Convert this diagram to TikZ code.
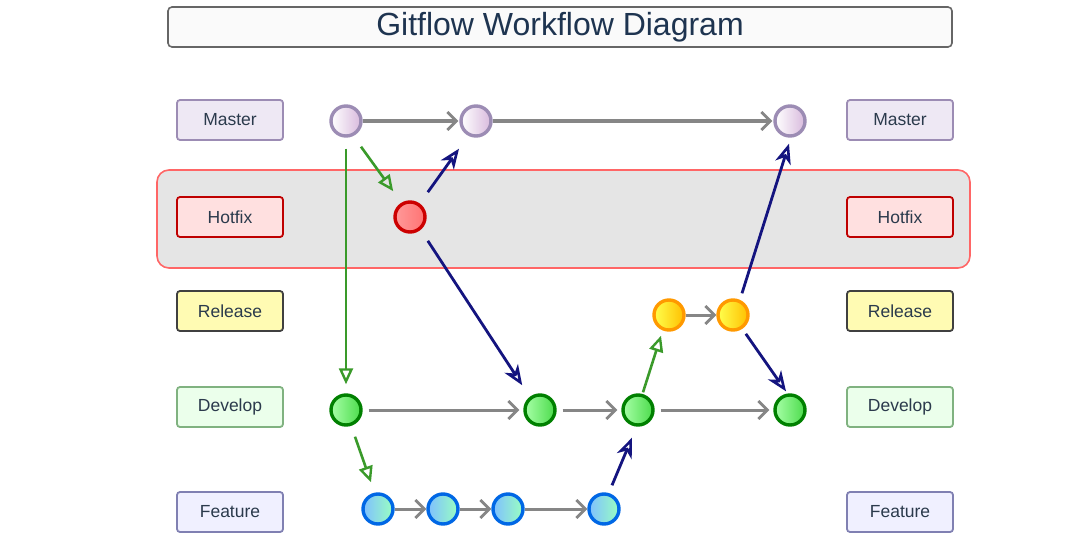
\documentclass[tikz,border=0pt]{standalone}
\usepackage{fontspec}
\setmainfont{Liberation Sans}
\usetikzlibrary{arrows.meta}
\definecolor{txt}{HTML}{2B3A4C}
\definecolor{ttl}{HTML}{1E3450}
\definecolor{grayarr}{HTML}{868686}
\definecolor{greenarr}{HTML}{3A9A2A}
\definecolor{navy}{HTML}{14147F}
\definecolor{mbord}{HTML}{9C8CB4}
\definecolor{mfill}{HTML}{EEE8F4}
\tikzset{
  x=1pt,y=-1pt,
  lbl/.style={draw, rounded corners=3pt, line width=1.8pt, minimum width=106pt, minimum height=40pt, font=\fontsize{17.5}{20}\selectfont, text=txt},
  lmaster/.style={lbl, fill=mfill, draw=mbord},
  lhotfix/.style={lbl, fill=red!12, draw=red!75!black},
  lrelease/.style={lbl, fill=yellow!30, draw=black!75},
  ldevelop/.style={lbl, fill=green!8!white, draw=green!25!gray!80},
  lfeature/.style={lbl, fill=blue!6, draw=blue!25!gray!80},
  cmt/.style={circle, minimum size=30pt, inner sep=0pt, line width=3.4pt},
  cmas/.style={cmt, draw=mbord, left color=white, right color=mfill!80!violet},
  chot/.style={cmt, draw=red!80!black, left color=red!40, right color=red!55},
  crel/.style={cmt, draw=orange!80!yellow, left color=yellow!70, right color=orange!50!yellow},
  cdev/.style={cmt, draw=green!50!black, left color=green!35, right color=green!60!black!50!green!70},
  cfea/.style={cmt, draw=blue!55!cyan!90!black, left color=cyan!50!blue!50, right color=cyan!40!green!40},
  garr/.style={draw=grayarr, line width=3pt, -{Straight Barb[length=9pt,width=18pt,line width=2.8pt]}},
  grarr/.style={draw=greenarr, line width=2.6pt, -{Triangle[open,length=16pt,width=14pt,line width=2.4pt]}},
  narr/.style={draw=navy, line width=2.8pt, -{Stealth[open,length=20pt,width=16pt,inset=6pt,line width=2.6pt]}},
}
\begin{document}
\begin{tikzpicture}
\useasboundingbox[fill=white] (0,0) rectangle (1080,551);
% title
\node[draw=gray!80!black, line width=1.6pt, rounded corners=4pt, fill=gray!4, minimum width=784pt, minimum height=40pt, text=ttl, font=\fontsize{32}{34}\selectfont] (title) at (560,27) {Gitflow Workflow Diagram};
% hotfix band
\node[draw=red!60!white, line width=1.6pt, rounded corners=12pt, fill=gray!20, minimum width=813pt, minimum height=98pt] (band) at (563.5,219) {};
% labels
\node[lmaster] (lm) at (230,120) {Master};
\node[lhotfix] (lh) at (230,217) {Hotfix};
\node[lrelease] (lr) at (230,311) {Release};
\node[ldevelop] (ld) at (230,407) {Develop};
\node[lfeature] (lf) at (230,512) {Feature};
\node[lmaster] (rm) at (900,120) {Master};
\node[lhotfix] (rh) at (900,217) {Hotfix};
\node[lrelease] (rr) at (900,311) {Release};
\node[ldevelop] (rd) at (900,407) {Develop};
\node[lfeature] (rf) at (900,512) {Feature};
% commits
\node[cmas] (m1) at (346,121) {};
\node[cmas] (m2) at (476,121) {};
\node[cmas] (m3) at (790,121) {};
\node[chot] (h1) at (410,217) {};
\node[crel] (r1) at (669,315) {};
\node[crel] (r2) at (733,315) {};
\node[cdev] (d1) at (346,410) {};
\node[cdev] (d2) at (540,410) {};
\node[cdev] (d3) at (638,410) {};
\node[cdev] (d4) at (790,410) {};
\node[cfea] (f1) at (378,509) {};
\node[cfea] (f2) at (443,509) {};
\node[cfea] (f3) at (508,509) {};
\node[cfea] (f4) at (604,509) {};
% gray arrows
\draw[garr] (m1) -- ([xshift=-1pt]m2.west);
\draw[garr] (m2) -- ([xshift=-1pt]m3.west);
\draw[garr] ([xshift=6pt]d1.east) -- ([xshift=-4pt]d2.west);
\draw[garr] ([xshift=6pt]d2.east) -- ([xshift=-4pt]d3.west);
\draw[garr] ([xshift=6pt]d3.east) -- ([xshift=-4pt]d4.west);
\draw[garr] (f1) -- (f2);
\draw[garr] (f2) -- (f3);
\draw[garr] (f3) -- (f4);
\draw[garr] (r1) -- (r2);
% green arrows
\draw[grarr] ([shift={(15pt,-9pt)}]m1.south) -- ([shift={(-5pt,14pt)}]h1.north west);
\draw[grarr] ([yshift=-11pt]m1.south) -- ([yshift=9pt]d1.north);
\draw[grarr] ([shift={(9pt,-10pt)}]d1.south) -- ([shift={(-7pt,10pt)}]f1.north);
\draw[grarr] ([shift={(5pt,1pt)}]d3.north) -- ([shift={(-8pt,-4pt)}]r1.south);
% navy arrows
\draw[narr] ([shift={(6pt,13pt)}]h1.north east) -- ([shift={(-17pt,-11pt)}]m2.south);
\draw[narr] ([shift={(6pt,-12pt)}]h1.south east) -- ([shift={(-6pt,13pt)}]d2.north west);
\draw[narr] ([shift={(8pt,7pt)}]f4.north) -- ([shift={(-6pt,-11pt)}]d3.south);
\draw[narr] ([shift={(9pt,5pt)}]r2.north) -- ([shift={(-1pt,-6pt)}]m3.south);
\draw[narr] ([shift={(1pt,-7pt)}]r2.south east) -- ([shift={(-4pt,2pt)}]d4.north);
\end{tikzpicture}
\end{document}
